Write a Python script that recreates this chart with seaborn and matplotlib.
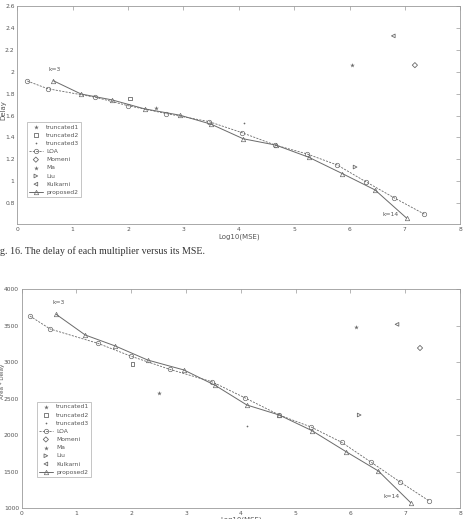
import numpy as np
import matplotlib
matplotlib.use("Agg")
import matplotlib.pyplot as plt
import seaborn as sns

# LOA series (k range) : log10(MSE) vs delay / area*delay
loa_mse_top = [0.18, 0.55, 1.41, 2.00, 2.69, 3.46, 4.05, 4.66, 5.23, 5.78, 6.29, 6.81, 7.35]
loa_delay = [1.915, 1.845, 1.767, 1.690, 1.618, 1.545, 1.445, 1.330, 1.250, 1.148, 0.997, 0.848, 0.700]
prop_mse_top = [0.65, 1.15, 1.71, 2.30, 2.94, 3.50, 4.08, 4.67, 5.26, 5.87, 6.46, 7.03]
prop_delay = [1.918, 1.797, 1.743, 1.661, 1.603, 1.521, 1.388, 1.330, 1.220, 1.070, 0.921, 0.664]

loa_mse_bot = [0.15, 0.52, 1.39, 2.00, 2.70, 3.47, 4.07, 4.70, 5.28, 5.84, 6.38, 6.90, 7.43]
loa_ad = [3634, 3456, 3260, 3082, 2904, 2734, 2515, 2278, 2114, 1904, 1630, 1364, 1104]
prop_mse_bot = [0.63, 1.16, 1.71, 2.30, 2.96, 3.53, 4.11, 4.70, 5.30, 5.92, 6.51, 7.10]
prop_ad = [3657, 3374, 3223, 3031, 2895, 2685, 2415, 2278, 2063, 1776, 1511, 1077]

# single multipliers: (mse, delay) and (mse, area*delay)
single_names = ["truncated1", "truncated2", "truncated3"]
other_names = ["Momeni", "Ma", "Liu", "Kulkarni"]
single_top = {"truncated1": (2.50, 1.670), "truncated2": (2.03, 1.755), "truncated3": (4.10, 1.533),
              "Momeni": (7.18, 2.060), "Ma": (6.05, 2.064), "Liu": (6.10, 1.130), "Kulkarni": (6.79, 2.327)}
single_bot = {"truncated1": (2.50, 2584), "truncated2": (2.02, 2977), "truncated3": (4.12, 2131),
              "Momeni": (7.27, 3196), "Ma": (6.11, 3479), "Liu": (6.16, 2278), "Kulkarni": (6.85, 3520)}
markers = {"truncated1": "*", "truncated2": "s", "truncated3": ".",
           "Momeni": "D", "Ma": "*", "Liu": ">", "Kulkarni": "<"}

sns.set_style("white")
plt.rcParams['font.family'] = ['DejaVu Sans']

GREY = "#6a6a6a"
TXT = "#555555"

fig = plt.figure(figsize=(4.69, 5.19), dpi=100)
W, H = 469, 519
ax1 = fig.add_axes([17.3 / W, 1 - 224 / H, 443 / W, 218 / H])
ax2 = fig.add_axes([21.7 / W, 1 - 508.3 / H, 438.3 / W, 219 / H])


def draw(ax, loa_x, loa_y, prop_x, prop_y, singles):
    def one(name):
        x, y = singles[name]
        m = markers[name]
        if m in ("s", "D", ">", "<"):
            sns.scatterplot(x=[x], y=[y], marker=m, s=7, facecolors="none", edgecolor=GREY,
                            linewidth=0.6, ax=ax, label=name)
        elif m == ".":
            sns.scatterplot(x=[x], y=[y], marker=".", s=6, color=GREY, linewidth=0, ax=ax, label=name)
        else:
            sns.scatterplot(x=[x], y=[y], marker="*", s=12, color=GREY, linewidth=0, ax=ax, label=name)

    for n in single_names:
        one(n)
    sns.lineplot(x=loa_x, y=loa_y, sort=False, ax=ax, color=GREY, linestyle=(0, (2.5, 1.5)), linewidth=0.6,
                 marker="o", markersize=3.2, markerfacecolor="none", markeredgecolor=GREY,
                 markeredgewidth=0.5, label="LOA")
    for n in other_names:
        one(n)
    sns.lineplot(x=prop_x, y=prop_y, sort=False, ax=ax, color=GREY, linewidth=0.7,
                 marker="^", markersize=3.2, markerfacecolor="none", markeredgecolor=GREY,
                 markeredgewidth=0.5, label="proposed2")
    ax.set_xlim(0, 8)
    ax.set_xticks(range(0, 9))
    ax.tick_params(direction="in", length=3, width=0.5, colors="#999999", labelcolor=TXT,
                   labelsize=4.3, top=True, right=True, pad=2)
    for sp in ax.spines.values():
        sp.set_color("#9a9a9a")
        sp.set_linewidth(0.6)


def style_legend(ax, anchor):
    leg = ax.legend(loc="lower left", bbox_to_anchor=anchor, fontsize=4.3, frameon=True,
                    fancybox=False, edgecolor="#9a9a9a", borderpad=0.35, labelspacing=0.5,
                    handlelength=2.4, handletextpad=0.5, borderaxespad=0)
    leg.get_frame().set_linewidth(0.5)
    for t in leg.get_texts():
        t.set_color(TXT)


draw(ax1, loa_mse_top, loa_delay, prop_mse_top, prop_delay, single_top)
ax1.set_ylim(0.61, 2.6)
yt = [0.8, 1.0, 1.2, 1.4, 1.6, 1.8, 2.0, 2.2, 2.4, 2.6]
ax1.set_yticks(yt)
ax1.set_yticklabels([f"{v:g}" for v in yt])
ax1.set_xlabel("Log10(MSE)", fontsize=5, color=TXT, labelpad=1)
ax1.set_ylabel("")
fig.text(3 / W, 1 - 110 / H, "Delay", fontsize=5, color=TXT, rotation=90, ha="center", va="center")
ax1.text(0.56, 2.02, "k=3", fontsize=4.3, color=TXT, va="center")
ax1.text(6.6, 0.70, "k=14", fontsize=4.3, color=TXT, va="center")
style_legend(ax1, (0.021, 0.124))

draw(ax2, loa_mse_bot, loa_ad, prop_mse_bot, prop_ad, single_bot)
ax2.set_ylim(1000, 4000)
ax2.set_yticks(range(1000, 4001, 500))
ax2.set_xlabel("Log10(MSE)", fontsize=5, color=TXT, labelpad=0)
ax2.set_ylabel("")
fig.text(2.5 / W, 1 - 381 / H, "Area * Delay", fontsize=4.1, color=TXT, rotation=90, ha="center", va="center")
ax2.text(0.56, 3817, "k=3", fontsize=4.3, color=TXT, va="center")
ax2.text(6.6, 1160, "k=14", fontsize=4.3, color=TXT, va="center")
style_legend(ax2, (0.034, 0.144))

fig.text(0.0, 1 - 251 / H, "g. 16. The delay of each multiplier versus its MSE.",
         fontsize=7.2, family="Liberation Serif", color="#333333", va="center", ha="left")

fig.savefig("out.png", dpi=100)
